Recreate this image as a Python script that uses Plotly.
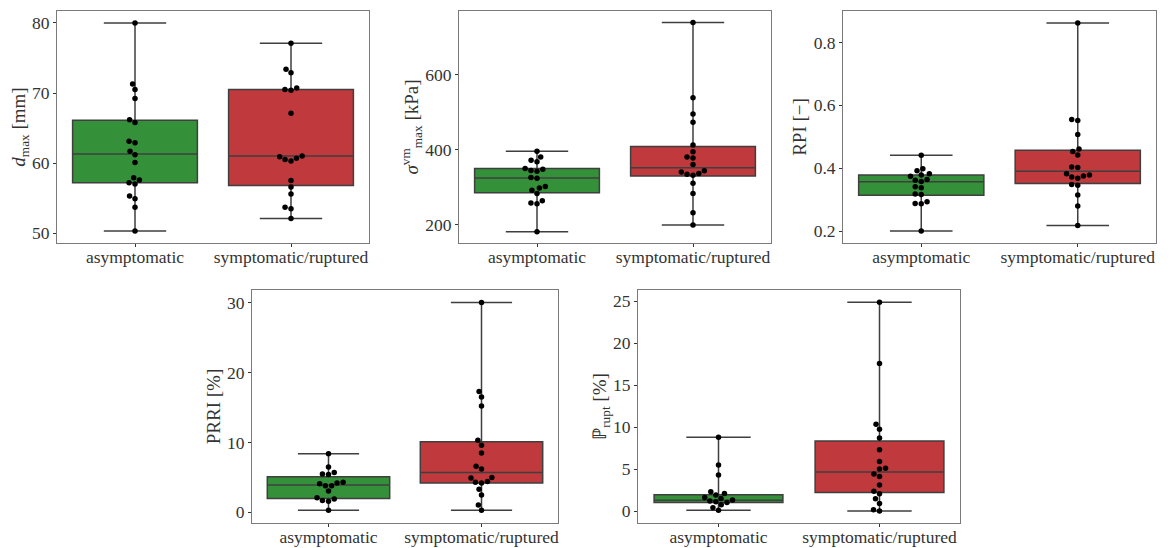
import math
import plotly.graph_objects as go

W, H = 1171, 548

categories = ["asymptomatic", "symptomatic/ruptured"]

# ---- data ----
dmax_asym = [80.0, 71.3, 70.5, 69.2, 66.2, 65.8, 63.1, 62.9, 61.7, 61.2, 60.1, 57.9, 57.6, 57.2, 57.0, 55.3, 54.9, 53.7, 50.3]
dmax_sym = [77.1, 73.4, 72.9, 70.7, 70.5, 70.4, 67.1, 61.0, 60.9, 60.7, 60.5, 60.3, 57.5, 56.6, 55.6, 53.7, 53.5, 52.1]
dmax_box = {"q1": [57.2, 56.8], "median": [61.3, 61.0], "q3": [66.1, 70.5], "lo": [50.3, 52.1], "hi": [80.0, 77.1]}

svm_asym = [396, 381, 372, 368, 350, 348, 345, 343, 326, 324, 302, 298, 292, 283, 264, 258, 256, 181]
svm_sym = [740, 539, 496, 474, 413, 395, 381, 378, 361, 344, 341, 337, 335, 332, 311, 283, 232, 199]
svm_box = {"q1": [285, 330], "median": [325, 352], "q3": [350, 409], "lo": [181, 199], "hi": [396, 740]}

rpi_asym = [0.441, 0.398, 0.392, 0.382, 0.378, 0.374, 0.364, 0.362, 0.358, 0.341, 0.338, 0.318, 0.316, 0.293, 0.288, 0.287, 0.200]
rpi_sym = [0.862, 0.555, 0.552, 0.507, 0.461, 0.453, 0.442, 0.404, 0.402, 0.382, 0.378, 0.375, 0.372, 0.368, 0.348, 0.346, 0.315, 0.280, 0.218]
rpi_box = {"q1": [0.314, 0.351], "median": [0.357, 0.390], "q3": [0.378, 0.457], "lo": [0.200, 0.218], "hi": [0.441, 0.862]}

prri_asym = [8.4, 6.5, 5.7, 5.5, 5.4, 4.3, 4.2, 4.1, 3.8, 3.8, 3.05, 2.1, 1.9, 1.7, 1.6, 0.3]
prri_sym = [30.0, 17.3, 16.5, 15.2, 10.3, 9.6, 8.5, 6.6, 6.2, 5.0, 4.9, 4.4, 4.3, 4.2, 3.3, 2.5, 1.05, 0.3]
prri_box = {"q1": [2.0, 4.2], "median": [3.9, 5.7], "q3": [5.1, 10.1], "lo": [0.3, 0.3], "hi": [8.4, 30.0]}

prupt_asym = [8.8, 5.5, 4.3, 2.3, 2.1, 1.9, 1.6, 1.5, 1.3, 1.2, 1.1, 1.0, 0.75, 0.4, 0.1]
prupt_sym = [24.9, 17.6, 10.35, 9.75, 8.7, 7.3, 5.9, 5.1, 5.0, 4.4, 4.1, 3.1, 2.35, 2.05, 1.45, 0.9, 0.15, 0.0]
prupt_box = {"q1": [1.0, 2.2], "median": [1.27, 4.66], "q3": [1.95, 8.36], "lo": [0.1, 0.0], "hi": [8.8, 24.9]}

titles = [
    "<i>d</i><sub>max</sub> [mm]",
    "<i>σ</i><sup>vm</sup><sub>max</sub> [kPa]",
    "RPI [−]",
    "PRRI [%]",
    "ℙ<sub>rupt</sub> [%]",
]
tickvals = [
    [50, 60, 70, 80],
    [200, 400, 600],
    [0.2, 0.4, 0.6, 0.8],
    [0, 10, 20, 30],
    [0, 5, 10, 15, 20, 25],
]
ticktext = [
    ["50", "60", "70", "80"],
    ["200", "400", "600"],
    ["0.2", "0.4", "0.6", "0.8"],
    ["0", "10", "20", "30"],
    ["0", "5", "10", "15", "20", "25"],
]

# ---- layout (pixels) ----
panels = [
    dict(x=(57, 369), y=(11, 243), yr=(48.6, 81.7)),
    dict(x=(459, 771), y=(11, 243), yr=(151, 771)),
    dict(x=(843, 1156), y=(11, 243), yr=(0.162, 0.900)),
    dict(x=(252, 558), y=(290, 523), yr=(-1.52, 31.8)),
    dict(x=(638, 960), y=(290, 523), yr=(-1.43, 26.35)),
]
series = [
    (dmax_asym, dmax_sym, dmax_box),
    (svm_asym, svm_sym, svm_box),
    (rpi_asym, rpi_sym, rpi_box),
    (prri_asym, prri_sym, prri_box),
    (prupt_asym, prupt_sym, prupt_box),
]

GREEN = "#35903a"
RED = "#c03a3d"
EDGE = "#3f3f3f"
FONT = "Liberation Serif"
MARK = 5.5


def swarm(values, yscale, xscale, d=MARK + 0.6):
    """Beeswarm offsets (data x units) computed from pixel positions."""
    order = sorted(range(len(values)), key=lambda i: values[i])
    placed = []  # (ypix, xpix)
    offs = [0.0] * len(values)
    for i in order:
        yp = values[i] * yscale
        cands = [0.0]
        for (py, px) in placed:
            dy = yp - py
            if abs(dy) < d:
                dx = math.sqrt(d * d - dy * dy)
                cands += [px + dx, px - dx]
        cands.sort(key=lambda c: (abs(c), c))
        for c in cands:
            ok = True
            for (py, px) in placed:
                if (yp - py) ** 2 + (c - px) ** 2 < d * d - 1e-6:
                    ok = False
                    break
            if ok:
                placed.append((yp, c))
                offs[i] = c / xscale
                break
    return offs


fig = go.Figure()
for k, (pan, (asym, sym, box)) in enumerate(zip(panels, series)):
    n = "" if k == 0 else str(k + 1)
    xa, ya = "x" + n, "y" + n
    wpx = pan["x"][1] - pan["x"][0]
    hpx = pan["y"][1] - pan["y"][0]
    yscale = hpx / (pan["yr"][1] - pan["yr"][0])
    xscale = wpx / 2.0
    for j, (vals, col) in enumerate([(asym, GREEN), (sym, RED)]):
        fig.add_trace(go.Box(
            x=[j], q1=[box["q1"][j]], median=[box["median"][j]], q3=[box["q3"][j]],
            lowerfence=[box["lo"][j]], upperfence=[box["hi"][j]],
            width=0.8, whiskerwidth=0.5, fillcolor=col,
            line=dict(color=EDGE, width=1.5), boxpoints=False,
            xaxis=xa, yaxis=ya, showlegend=False, hoverinfo="skip",
        ))
        offs = swarm(vals, yscale, xscale)
        fig.add_trace(go.Scatter(
            x=[j + o for o in offs], y=vals, mode="markers",
            marker=dict(color="black", size=MARK),
            xaxis=xa, yaxis=ya, showlegend=False, hoverinfo="skip",
        ))
    axcommon = dict(showline=True, linecolor="#7a7a7a", linewidth=1, mirror=True,
                    showgrid=False, zeroline=False, ticks="outside", ticklen=3,
                    tickcolor="#333", automargin=False,
                    tickfont=dict(family=FONT, size=17.5, color="#333"))
    fig.layout["xaxis" + n] = dict(
        domain=[pan["x"][0] / W, pan["x"][1] / W], anchor=ya, range=[-0.5, 1.5],
        tickvals=[0, 1], ticktext=categories, ticklabelstandoff=-5, **axcommon)
    fig.layout["yaxis" + n] = dict(
        domain=[1 - pan["y"][1] / H, 1 - pan["y"][0] / H], anchor=xa, range=list(pan["yr"]),
        tickvals=tickvals[k], ticktext=ticktext[k],
        title=dict(text=titles[k], font=dict(family=FONT, size=19, color="#333"), standoff=1),
        **axcommon)

fig.update_layout(width=W, height=H, margin=dict(l=0, r=0, t=0, b=0),
                  plot_bgcolor="white", paper_bgcolor="white", boxmode="overlay")
fig.write_html("out.html", config={"displayModeBar": False},
               post_script="document.body.style.margin='0';document.body.style.overflow='hidden';")
